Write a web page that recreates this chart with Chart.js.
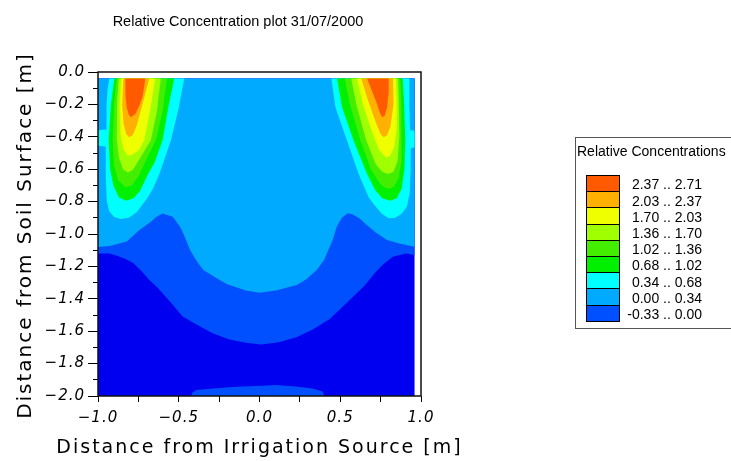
<!DOCTYPE html>
<html>
<head>
<meta charset="utf-8">
<script src="https://cdn.jsdelivr.net/npm/chart.js"></script>
<style>
  html, body { margin: 0; padding: 0; background: #fff; overflow: hidden; }
  #wrap { position: relative; width: 731px; height: 461px; overflow: hidden; }
  #contourChart { position: absolute; left: 0; top: 0; }
  #plotTitle { position: absolute; left: 0; top: 14px; width: 476px; text-align: center;
    font: 14.5px/1 "Liberation Sans", Arial, sans-serif; color: #000; white-space: nowrap; }
  #legendBox { position: absolute; left: 575px; top: 137px; width: 180px; height: 192px;
    box-sizing: border-box; border: 1px solid #555; }
  #legendTitle { position: absolute; left: 577px; top: 143px; white-space: nowrap;
    font: 14px/16px "Liberation Sans", Arial, sans-serif; color: #000; }
  #legendRows { position: absolute; left: 586px; top: 175px; }
  .row { position: relative; height: 16.2px; width: 120px; }
  .swatch { position: absolute; left: 0; top: 0; width: 34px; height: 17.2px; box-sizing: border-box;
    border: 1.5px solid #000; }
  .lab { position: absolute; left: 0; top: 1.4px; width: 116px; text-align: right; white-space: nowrap;
    font: 14px/16px "Liberation Sans", Arial, sans-serif; color: #000; }
</style>
</head>
<body>
<div id="wrap">
  <canvas id="contourChart" width="731" height="461"></canvas>
  <div id="plotTitle">Relative Concentration plot 31/07/2000</div>
  <div id="legendBox"></div>
  <div id="legendTitle">Relative Concentrations</div>
  <div id="legendRows"></div>
</div>
<script>
// contour class limits and colours (lowest first)
const levelBounds = [-0.33, 0.00, 0.34, 0.68, 1.02, 1.36, 1.70, 2.03, 2.37, 2.71];
const levelColors = ['#0050FF', '#00AAFF', '#00FFFF', '#00F000', '#44EE00', '#A0FF00', '#F0FF00', '#FFB000', '#FF5A00'];
const belowColor = '#0000F0';

const xTickLabels = ['−1.0', '−0.5', '0.0', '0.5', '1.0'];
const yTickLabels = ['0.0', '−0.2', '−0.4', '−0.6', '−0.8', '−1.0', '−1.2', '−1.4', '−1.6', '−1.8', '−2.0'];

// region outlines [x, y], one per contour level
const domainArea = [[-1, -0.04], [0.96, -0.04], [0.96, -2], [-1, -2]];

const aboveM033Main = [[-1, -0.04], [0.96, -0.04], [0.96, -1.13], [0.907, -1.12], [0.825, -1.14], [0.763, -1.19],
  [0.713, -1.243], [0.65, -1.32], [0.605, -1.363], [0.515, -1.449], [0.435, -1.525], [0.33, -1.59], [0.228, -1.638],
  [0.12, -1.668], [0.01, -1.682], [-0.084, -1.672], [-0.187, -1.652], [-0.29, -1.613], [-0.39, -1.558],
  [-0.476, -1.51], [-0.545, -1.428], [-0.628, -1.335], [-0.682, -1.284], [-0.73, -1.23], [-0.78, -1.18],
  [-0.822, -1.158], [-0.878, -1.136], [-0.93, -1.12], [-1, -1.12]];
const aboveM033Bottom = [[-0.424, -2.0], [-0.415, -1.978], [-0.39, -1.963], [-0.29, -1.953], [-0.146, -1.943],
  [0.02, -1.936], [0.1, -1.932], [0.226, -1.942], [0.33, -1.953], [0.39, -1.972], [0.401, -2.0]];

const above000 = [[-1, -0.04], [0.96, -0.04], [0.96, -1.078], [0.866, -1.058], [0.79, -1.037], [0.72, -0.99],
  [0.664, -0.945], [0.618, -0.903], [0.575, -0.878], [0.546, -0.872], [0.51, -0.9], [0.478, -0.955],
  [0.453, -1.037], [0.426, -1.099], [0.4, -1.16], [0.354, -1.222], [0.29, -1.28], [0.23, -1.315],
  [0.102, -1.348], [0.0, -1.362], [-0.084, -1.348], [-0.2, -1.31], [-0.27, -1.27], [-0.348, -1.222],
  [-0.39, -1.165], [-0.43, -1.099], [-0.47, -1.0], [-0.492, -0.955], [-0.537, -0.893], [-0.6, -0.874],
  [-0.64, -0.895], [-0.672, -0.924], [-0.744, -0.975], [-0.822, -1.047], [-0.926, -1.074], [-1, -1.08]];

const above034Left = [[-0.93, -0.04], [-0.466, -0.04], [-0.5, -0.22], [-0.548, -0.42], [-0.62, -0.63],
  [-0.66, -0.72], [-0.7, -0.785], [-0.76, -0.865], [-0.81, -0.9], [-0.86, -0.908], [-0.9, -0.895],
  [-0.93, -0.86], [-0.945, -0.8], [-0.952, -0.65], [-0.952, -0.46], [-1, -0.455], [-1, -0.36],
  [-0.95, -0.355], [-0.947, -0.2], [-0.94, -0.1]];
const above034Right = [[0.445, -0.04], [0.928, -0.04], [0.928, -0.2], [0.932, -0.36], [0.96, -0.362],
  [0.96, -0.465], [0.936, -0.47], [0.936, -0.6], [0.93, -0.75], [0.913, -0.83], [0.88, -0.875],
  [0.84, -0.9], [0.8, -0.903], [0.759, -0.877], [0.71, -0.82], [0.676, -0.773], [0.614, -0.63],
  [0.542, -0.424], [0.47, -0.218]];

const above068Left = [[-0.899, -0.04], [-0.528, -0.04], [-0.565, -0.22], [-0.6, -0.42], [-0.65, -0.56],
  [-0.69, -0.63], [-0.74, -0.735], [-0.78, -0.78], [-0.825, -0.795], [-0.87, -0.775], [-0.905, -0.7],
  [-0.925, -0.6], [-0.934, -0.42], [-0.92, -0.2]];
const above068Right = [[0.48, -0.04], [0.887, -0.04], [0.895, -0.2], [0.903, -0.42], [0.897, -0.6],
  [0.88, -0.72], [0.85, -0.78], [0.81, -0.794], [0.76, -0.78], [0.717, -0.73], [0.666, -0.63],
  [0.583, -0.424], [0.511, -0.218]];

const above102Left = [[-0.884, -0.04], [-0.573, -0.04], [-0.6, -0.24], [-0.641, -0.42], [-0.7, -0.54],
  [-0.75, -0.645], [-0.79, -0.7], [-0.83, -0.712], [-0.875, -0.67], [-0.9, -0.58], [-0.909, -0.42], [-0.9, -0.2]];
const above102Right = [[0.528, -0.04], [0.872, -0.04], [0.878, -0.2], [0.882, -0.4], [0.878, -0.55],
  [0.86, -0.66], [0.83, -0.71], [0.8, -0.722], [0.77, -0.712], [0.74, -0.68], [0.69, -0.6],
  [0.624, -0.42], [0.56, -0.2]];

const above136Left = [[-0.872, -0.04], [-0.611, -0.04], [-0.635, -0.24], [-0.672, -0.42], [-0.75, -0.55],
  [-0.785, -0.605], [-0.815, -0.62], [-0.845, -0.6], [-0.87, -0.53], [-0.884, -0.42], [-0.882, -0.2]];
const above136Right = [[0.568, -0.04], [0.858, -0.04], [0.863, -0.2], [0.866, -0.4], [0.855, -0.55],
  [0.83, -0.615], [0.795, -0.63], [0.76, -0.615], [0.72, -0.57], [0.66, -0.42], [0.6, -0.2]];

const above170Left = [[-0.858, -0.04], [-0.645, -0.04], [-0.68, -0.25], [-0.713, -0.42], [-0.745, -0.48],
  [-0.785, -0.51], [-0.816, -0.517], [-0.845, -0.47], [-0.862, -0.38], [-0.866, -0.2]];
const above170Right = [[0.604, -0.04], [0.845, -0.04], [0.85, -0.2], [0.85, -0.35], [0.835, -0.46],
  [0.81, -0.515], [0.789, -0.527], [0.77, -0.515], [0.74, -0.48], [0.7, -0.38], [0.64, -0.2]];

const above203Left = [[-0.843, -0.04], [-0.682, -0.04], [-0.725, -0.2], [-0.76, -0.33], [-0.785, -0.39],
  [-0.806, -0.403], [-0.825, -0.385], [-0.842, -0.32], [-0.85, -0.2]];
const above203Right = [[0.63, -0.04], [0.827, -0.04], [0.83, -0.2], [0.81, -0.34], [0.79, -0.39],
  [0.769, -0.403], [0.75, -0.385], [0.72, -0.31], [0.67, -0.17]];

const above237Left = [[-0.831, -0.04], [-0.707, -0.04], [-0.723, -0.15], [-0.745, -0.21], [-0.769, -0.26],
  [-0.796, -0.28], [-0.81, -0.262], [-0.822, -0.218], [-0.83, -0.15]];
const above237Right = [[0.666, -0.04], [0.8, -0.04], [0.8, -0.12], [0.79, -0.22], [0.775, -0.27],
  [0.759, -0.28], [0.745, -0.25], [0.725, -0.19], [0.69, -0.1]];

// painted bottom to top, each layer covers everything above its lower limit
const layers = [
  { color: belowColor, shapes: [domainArea] },
  { color: levelColors[0], shapes: [aboveM033Main, aboveM033Bottom] },
  { color: levelColors[1], shapes: [above000] },
  { color: levelColors[2], shapes: [above034Left, above034Right] },
  { color: levelColors[3], shapes: [above068Left, above068Right] },
  { color: levelColors[4], shapes: [above102Left, above102Right] },
  { color: levelColors[5], shapes: [above136Left, above136Right] },
  { color: levelColors[6], shapes: [above170Left, above170Right] },
  { color: levelColors[7], shapes: [above203Left, above203Right] },
  { color: levelColors[8], shapes: [above237Left, above237Right] },
];

const datasets = [];
layers.forEach((layer, i) => {
  layer.shapes.forEach(shape => {
    datasets.push({
      data: shape.map(([x, y]) => ({ x, y })),
      backgroundColor: layer.color,
      borderWidth: 0,
      pointRadius: 0,
      tension: 0,
      fill: 'shape',
      order: layers.length - i,
      xAxisID: 'x',
      yAxisID: 'y',
    });
  });
});

// legend (highest class on top)
const legendRows = document.getElementById('legendRows');
for (let i = levelColors.length - 1; i >= 0; i--) {
  const row = document.createElement('div');
  row.className = 'row';
  row.innerHTML = '<span class="swatch" style="background:' + levelColors[i] + '"></span>' +
    '<span class="lab">' + levelBounds[i].toFixed(2) + ' .. ' + levelBounds[i + 1].toFixed(2) + '</span>';
  legendRows.appendChild(row);
}

// letter spacing for the wide plotter lettering
const axisLettering = {
  id: 'axisLettering',
  beforeDraw(chart) { chart.ctx.letterSpacing = '2px'; },
  afterDatasetsDraw(chart) { chart.ctx.letterSpacing = '1px'; },
  afterDraw(chart) { chart.ctx.letterSpacing = '0px'; },
};

// axis titles are longer than the plot, give them room
const titleRoom = {
  id: 'titleRoom',
  afterLayout(chart) {
    const { x, y } = chart.scales;
    y.top = 0; y.bottom = 471;
    x.left = 0; x.right = 519;
  },
};

const plotFrame = {
  id: 'plotFrame',
  afterDraw(chart) {
    const { ctx, chartArea: a } = chart;
    ctx.save();
    ctx.strokeStyle = '#111';
    ctx.lineWidth = 1.5;
    ctx.strokeRect(a.left, a.top, a.right - a.left, a.bottom - a.top);
    ctx.restore();
  },
};

const tickFont = { family: 'DejaVu Sans', size: 15, style: 'italic' };

const ctx = document.getElementById('contourChart').getContext('2d');
const contourChart = new Chart(ctx, {
  type: 'line',
  data: { datasets: datasets },
  options: {
    responsive: false,
    animation: false,
    events: [],
    layout: { padding: { top: 72, right: 310, bottom: 0, left: 0 } },
    plugins: {
      legend: { display: false },
      tooltip: { enabled: false },
      title: { display: false },
    },
    scales: {
      x: {
        type: 'linear',
        position: 'bottom',
        min: -1,
        max: 1,
        ticks: {
          stepSize: 0.25,
          autoSkip: false,
          maxRotation: 0,
          padding: 7,
          z: 1,
          color: '#000',
          font: tickFont,
          callback: (v, i) => (i % 2 === 0 ? xTickLabels[i / 2] : ''),
        },
        grid: { drawOnChartArea: false, tickLength: 6, color: '#000' },
        border: { display: false },
        title: {
          display: true,
          text: 'Distance from Irrigation Source [m]',
          color: '#000',
          font: { family: 'DejaVu Sans', size: 19 },
          padding: { top: 0, bottom: 2 },
        },
        afterFit: (s) => { s.height = 65; },
      },
      y: {
        type: 'linear',
        position: 'left',
        weight: 2,
        min: -2,
        max: 0,
        ticks: {
          stepSize: 0.2,
          autoSkip: false,
          padding: 3,
          z: 1,
          color: '#000',
          font: tickFont,
          callback: (v) => yTickLabels[Math.round(-v / 0.2)],
        },
        grid: { drawOnChartArea: false, tickLength: 10, color: '#000' },
        border: { display: false },
        title: {
          display: true,
          text: 'Distance from Soil Surface [m]',
          color: '#000',
          font: { family: 'DejaVu Sans', size: 20 },
          padding: { top: 14, bottom: 0 },
        },
        afterFit: (s) => { s.width = 98; },
      },
      // minor ticks every 0.1
      y2: {
        type: 'linear',
        position: 'left',
        weight: 1,
        min: -2,
        max: 0,
        ticks: { display: false, stepSize: 0.1, autoSkip: false },
        grid: { drawOnChartArea: false, tickLength: 5, color: '#000' },
        border: { display: false },
        afterFit: (s) => { s.width = 0; },
      },
    },
  },
  plugins: [axisLettering, titleRoom, plotFrame],
});
</script>
</body>
</html>
